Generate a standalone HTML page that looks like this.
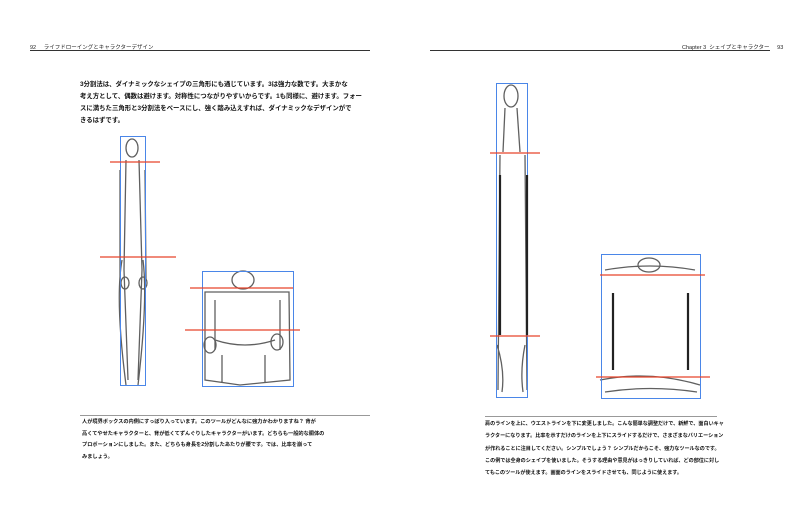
<!DOCTYPE html>
<html><head><meta charset="utf-8"><style>
body{margin:0;width:800px;height:512px;background:#fff;position:relative;overflow:hidden;font-family:"Liberation Sans","Noto Sans CJK JP",sans-serif;}
.t{position:absolute;font-size:6.4px;font-weight:bold;line-height:12px;color:#111;white-space:nowrap;}
.h{position:absolute;font-size:5.5px;color:#222;}
</style></head><body>
<div class="h" style="left:30px;top:43px">92&nbsp;&nbsp;&nbsp;&nbsp;&nbsp;ライフドローイングとキャラクターデザイン</div>
<div style="position:absolute;left:30px;top:50px;width:340px;height:1px;background:#333"></div>
<div class="h" style="left:682px;top:43px">Chapter 3&nbsp;&nbsp;シェイプとキャラクター&nbsp;&nbsp;&nbsp;&nbsp;&nbsp;93</div>
<div style="position:absolute;left:430px;top:50px;width:340px;height:1px;background:#333"></div>
<div class="t" style="left:80px;top:79px">3分割法は、ダイナミックなシェイプの三角形にも通じています。3は強力な数です。大まかな<br>考え方として、偶数は避けます。対称性につながりやすいからです。1も同様に、避けます。フォー<br>スに満ちた三角形と3分割法をベースにし、強く踏み込えすれば、ダイナミックなデザインがで<br>きるはずです。</div>
<div style="position:absolute;left:80px;top:415px;width:290px;height:1px;background:#999"></div>
<div class="t" style="left:82px;top:417px;font-size:5.2px;line-height:11.7px">人が境界ボックスの内側にすっぽり入っています。このツールがどんなに強力かわかりますね？ 背が<br>高くてやせたキャラクターと、背が低くてずんぐりしたキャラクターがいます。どちらも一般的な胴体の<br>プロポーションにしました。また、どちらも身長を2分割したあたりが腰です。では、比率を崩って<br>みましょう。</div>
<div style="position:absolute;left:485px;top:416px;width:232px;height:1px;background:#999"></div>
<div class="t" style="left:485px;top:418px;font-size:5.1px;line-height:12.3px">肩のラインを上に、ウエストラインを下に変更しました。こんな簡単な調整だけで、新鮮で、面白いキャ<br>ラクターになります。比率を示すだけのラインを上下にスライドするだけで、さまざまなバリエーション<br>が作れることに注目してください。シンプルでしょう？ シンプルだからこそ、強力なツールなのです。<br>この例では全身のシェイプを使いました。そうする理由や意見がはっきりしていれば、どの部位に対し<br>てもこのツールが使えます。画面のラインをスライドさせても、同じように使えます。</div>
<svg width="800" height="512" style="position:absolute;left:0;top:0" fill="none">
<g stroke="#444" stroke-width="1.3" opacity="0.85">
<ellipse cx="132" cy="148" rx="6" ry="9"/><path d="M126 160 L124 270 L128 380 M139 160 L142 270 L138 380 M122 260 Q115 300 126 385 M143 260 Q148 300 138 385 M120 170 L120 280 M145 170 L146 280"/>
<ellipse cx="125" cy="283" rx="4" ry="6"/><ellipse cx="143" cy="283" rx="4" ry="6"/>
<ellipse cx="243" cy="280" rx="11" ry="9"/><path d="M205 292 L205 380 L240 385 L290 380 L289 292 Z M215 340 Q245 350 275 340 M215 300 L215 350 M280 300 L280 350 M222 355 L222 383 M265 355 L265 383"/>
<ellipse cx="210" cy="345" rx="6" ry="8"/><ellipse cx="277" cy="342" rx="6" ry="8"/>
<ellipse cx="511" cy="96" rx="7" ry="11"/><path d="M505 108 L503 152 M517 108 L520 152 M500 155 L498 390 M525 155 L527 390 M497 345 Q505 370 502 392 M525 345 Q520 370 523 392"/>
<ellipse cx="649" cy="265" rx="11" ry="7"/><path d="M605 270 Q650 262 695 270 M600 380 Q650 370 700 385 M605 392 Q650 385 697 392"/>
</g>
<g stroke="#4a86e8" stroke-width="1">
<rect x="120.5" y="136.5" width="25" height="249"/><rect x="202.5" y="271.5" width="91" height="115"/>
<rect x="496.5" y="83.5" width="31" height="314"/><rect x="601.5" y="254.5" width="99" height="144"/>
</g>
<g stroke="#e8432a" stroke-width="1.2">
<path d="M110 162H160M100 257H176M190 288H293M185 330H300M490 153H540M490 336H540M600 275H705M596 377H710"/>
</g>
<g stroke="#222" stroke-width="2.2">
<path d="M500 175V335M527 175V335M613 293V370M688 293V370"/>
</g>
</svg>
</body></html>
